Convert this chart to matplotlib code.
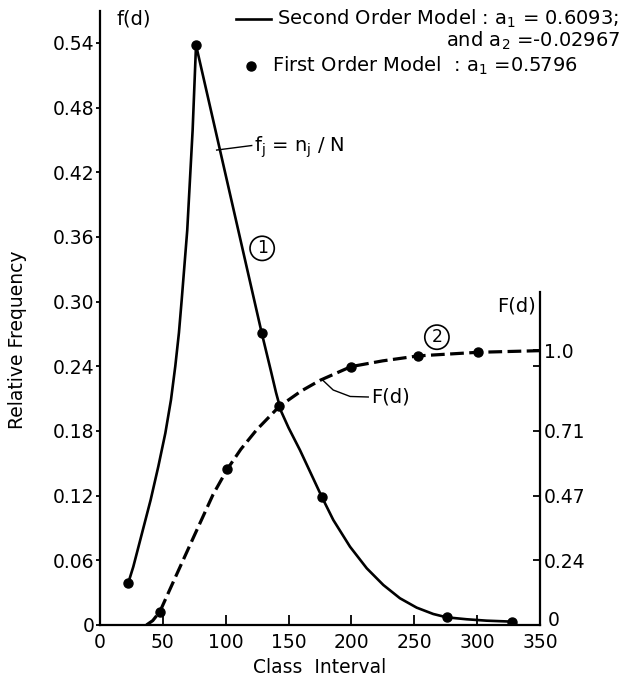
import matplotlib
matplotlib.use('Agg')
import matplotlib.pyplot as plt
from matplotlib.lines import Line2D
from matplotlib.transforms import ScaledTranslation

plt.rcParams['font.family'] = ['DejaVu Sans']
plt.rcParams['mathtext.default'] = 'regular'

# curve 1: relative frequency f(d)
f_x = [22.5, 26.5, 33.4, 40.3, 46.4, 52.0, 56.5, 59.9, 62.8, 65.0, 69.4, 73.7, 76.4,
       128.6, 136.0, 140.0, 144.0, 150.0, 159.1, 176.4, 185.6, 198.9, 212.2, 225.4,
       238.6, 251.9, 265.1, 275.8, 291.7, 307.6, 328.0]
f_y = [0.039, 0.054, 0.085, 0.116, 0.147, 0.178, 0.209, 0.240, 0.271, 0.3015, 0.366, 0.459, 0.538,
       0.2712, 0.2355, 0.2158, 0.1985, 0.183, 0.1622, 0.119, 0.0974, 0.0726, 0.0526, 0.0371,
       0.0248, 0.0161, 0.0102, 0.0071, 0.0053, 0.0040, 0.0031]
# first order model points on curve 1
f_pts_x = [22.5, 76.4, 128.6, 176.4, 275.8, 328.0]
f_pts_y = [0.039, 0.538, 0.2712, 0.119, 0.0071, 0.0031]

# curve 2: cumulative F(d), traced
F_x = [37.0, 42.0, 47.7, 61.0, 75.0, 90.0, 101.3, 112.0, 124.6, 142.6, 160.0, 175.0,
       199.7, 225.0, 253.2, 300.4, 350.0]
F_y = [0.0, 0.016, 0.049, 0.184, 0.325, 0.475, 0.567, 0.639, 0.710, 0.795, 0.851, 0.890,
       0.940, 0.961, 0.979, 0.992, 0.998]
F_pts_x = [47.7, 101.3, 142.6, 199.7, 253.2, 300.4]
F_pts_y = [0.049, 0.567, 0.795, 0.940, 0.979, 0.992]

x_ticks = [0, 50, 100, 150, 200, 250, 300, 350]
f_ticks = [0, 0.06, 0.12, 0.18, 0.24, 0.30, 0.36, 0.42, 0.48, 0.54]
f_labels = ['0', '0.06', '0.12', '0.18', '0.24', '0.30', '0.36', '0.42', '0.48', '0.54']
F_scale = 0.255  # F = 1.0 sits at f = 0.255
F_ticks = [0, 0.06 / F_scale, 0.12 / F_scale, 0.18 / F_scale, 0.24 / F_scale, 1.0]
F_labels = ['0', '0.24', '0.47', '0.71', '', '1.0']

fig = plt.figure(figsize=(6.26, 6.82), dpi=100)
ax = fig.add_axes([0.1597, 0.0836, 0.7029, 0.9009])
ax.set_xlim(0, 350)
ax.set_ylim(0, 0.57)
ax2 = ax.twinx()
ax2.set_ylim(0, 0.57 / F_scale)

for a in (ax, ax2):
    a.spines['top'].set_visible(False)
    for s in a.spines.values():
        s.set_linewidth(1.6)
ax.spines['right'].set_visible(False)
ax2.spines['left'].set_visible(False)
ax2.spines['bottom'].set_visible(False)
ax2.spines['right'].set_bounds(0, 1.21)

ax.set_xticks(x_ticks)
ax.set_xticklabels([str(v) for v in x_ticks])
ax.set_yticks(f_ticks)
ax.set_yticklabels(f_labels)
ax.tick_params(axis='x', direction='in', length=7, width=1.3, pad=6, labelsize=13.5)
ax.tick_params(axis='y', direction='out', length=3, width=1.3, pad=1, labelsize=13.5)
ax2.set_yticks(F_ticks)
ax2.set_yticklabels(F_labels)
ax2.tick_params(axis='y', direction='in', length=5, width=1.3, pad=3, labelsize=13.5)
# the right-hand "0" sits a little above the 350 label
lab0 = ax2.get_yticklabels()[0]
lab0.set_transform(lab0.get_transform() + ScaledTranslation(4 / 100, 6 / 100, fig.dpi_scale_trans))

ax.plot(f_x, f_y, color='black', lw=1.9)
ax.plot(f_pts_x, f_pts_y, 'o', color='black', ms=6.5)
ax2.plot(F_x, F_y, color='black', lw=2.3, dashes=(4.3, 1.7))
ax2.plot(F_pts_x, F_pts_y, 'o', color='black', ms=6.5)

ax.set_xlabel('Class  Interval', fontsize=13.5, labelpad=4)
ax.set_ylabel('Relative Frequency', fontsize=13.5)
ax.yaxis.set_label_coords(-0.165, 0.465)

ax.text(26.5, 0.562, 'f(d)', fontsize=14, ha='center', va='center')
ax.text(331.6, 0.2955, 'F(d)', fontsize=14, ha='center', va='center')

# annotations
ax.plot([92.8, 120.7], [0.4406, 0.4448], color='black', lw=1.0)
ax.text(122.5, 0.4434, r'$f_j$ = $n_j$ / N', fontsize=14, ha='left', va='center')
ax.plot([176.4, 185.5, 199.0, 213.4], [0.228, 0.218, 0.212, 0.2115], color='black', lw=1.0)
ax.text(215.5, 0.2115, 'F(d)', fontsize=14, ha='left', va='center')
ax.text(129, 0.3494, '1', fontsize=12.5, ha='center', va='center',
        bbox=dict(boxstyle='circle,pad=0.18', fc='white', ec='black', lw=1.2))
ax.text(268, 0.267, '2', fontsize=12.5, ha='center', va='center',
        bbox=dict(boxstyle='circle,pad=0.18', fc='white', ec='black', lw=1.2))

# legend block
W, H = 626.0, 682.0
fig.add_artist(Line2D([236 / W, 271 / W], [1 - 19 / H, 1 - 19 / H], color='black', lw=1.9))
fig.add_artist(Line2D([251 / W], [1 - 66 / H], marker='o', color='black', ms=6.5))
fig.text(277 / W, 1 - 19 / H, r'Second Order Model : $a_1$ = 0.6093;', fontsize=14, va='center')
fig.text(620 / W, 1 - 41 / H, r'and $a_2$ =-0.02967', fontsize=14, va='center', ha='right')
fig.text(272 / W, 1 - 66 / H, r'First Order Model  : $a_1$ =0.5796', fontsize=14, va='center')

fig.savefig('out.png', dpi=100)
